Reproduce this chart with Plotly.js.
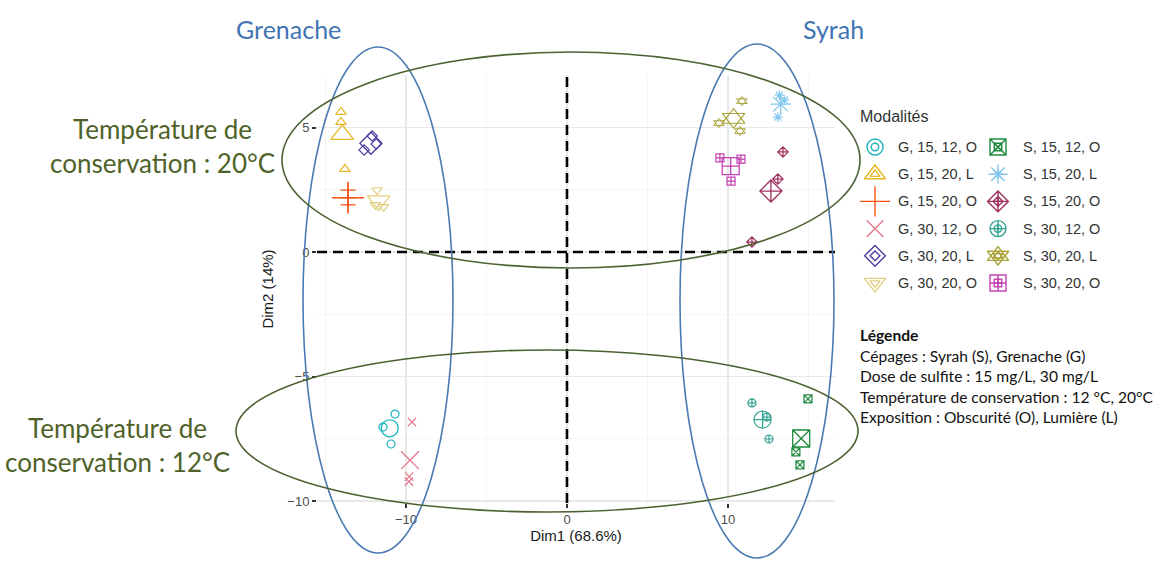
<!DOCTYPE html>
<html>
<head>
<meta charset="utf-8">
<script src="https://cdn.plot.ly/plotly-3.0.1.min.js"></script>
<style>
  html, body { margin: 0; padding: 0; background: #ffffff; }
  #chart { width: 1162px; height: 563px; }
</style>
</head>
<body>
<div id="chart"></div>
<script>
// Groups: grape variety, sulfite dose (mg/L), storage temperature (°C), exposure
const modalites = [
  'G, 15, 12, O', 'G, 15, 20, L', 'G, 15, 20, O', 'G, 30, 12, O', 'G, 30, 20, L', 'G, 30, 20, O',
  'S, 15, 12, O', 'S, 15, 20, L', 'S, 15, 20, O', 'S, 30, 12, O', 'S, 30, 20, L', 'S, 30, 20, O'
];

// Individual coordinates on the first two principal components (3 replicates per group)
const dim1Values = [
  [-10.68, -11.43, -10.93],
  [-14.04, -14.04, -13.80],
  [-13.60, -13.60, -13.60],
  [-9.63, -9.80, -9.82],
  [-12.10, -11.85, -12.60],
  [-11.80, -11.90, -11.40],
  [14.97, 14.22, 14.47],
  [13.20, 13.50, 13.10],
  [13.42, 13.10, 11.49],
  [11.49, 12.42, 12.55],
  [10.87, 9.44, 10.75],
  [9.50, 10.81, 10.19]
];
const dim2Values = [
  [-6.51, -7.03, -7.71],
  [5.62, 5.22, 3.33],
  [2.49, 2.17, 1.89],
  [-6.83, -9.02, -9.22],
  [4.66, 4.34, 4.10],
  [2.49, 1.89, 1.81],
  [-5.90, -8.03, -8.55],
  [6.30, 6.10, 5.42],
  [4.02, 2.93, 0.40],
  [-6.06, -6.63, -7.51],
  [6.06, 5.18, 4.86],
  [3.78, 3.73, 2.85]
];

// Group mean points
const meanDim1 = [-11.01, -13.96, -13.60, -9.75, -12.18, -11.70, 14.55, 13.27, 12.67, 12.15, 10.35, 10.17];
const meanDim2 = [-7.08, 4.72, 2.18, -8.36, 4.37, 2.06, -7.49, 5.94, 2.45, -6.73, 5.37, 3.45];

// Marker shapes; the star of David is built from an up and a down triangle
const symbols = [
  ['circle-open'], ['triangle-up-open'], ['cross-thin-open'], ['x-thin-open'], ['diamond-open'], ['triangle-down-open'],
  ['square-x-open'], ['asterisk-open'], ['diamond-cross-open'], ['circle-cross-open'],
  ['triangle-up-open', 'triangle-down-open'], ['square-cross-open']
];
const colors = [
  '#1FB5BD', '#E5B822', '#FA5217', '#E3798A', '#4E3FA0', '#E2CF80',
  '#1F8A3E', '#82C8EE', '#A0305E', '#37A596', '#A9A33A', '#C342B2'
];

const legendNotes = [
  '<b>Légende</b>',
  'Cépages : Syrah (S), Grenache (G)',
  'Dose de sulfite : 15 mg/L, 30 mg/L',
  'Température de conservation : 12 °C, 20°C',
  'Exposition : Obscurité (O), Lumière (L)'
];

// ---- page geometry helpers (pixels -> paper fractions) ----
const W = 1162, H = 563;
const px = v => v / W;
const py = v => 1 - v / H;

const smallSize = 8;
const bigSize = 17;
const symScale = s => {
  if (s.indexOf('triangle') === 0) return 1.15;
  if (s === 'cross-thin-open') return 1.35;
  if (s === 'x-thin-open') return 1.05;
  return 1;
};
const isComposite = i => symbols[i].length > 1;

const traces = [];
modalites.forEach((name, i) => {
  symbols[i].forEach(sym => {
    const k = symScale(sym);
    const lw = isComposite(i) ? 1.0 : 1.2;
    traces.push({
      type: 'scatter', mode: 'markers', name: name, showlegend: false,
      x: dim1Values[i], y: dim2Values[i],
      marker: { symbol: sym, size: smallSize * k, color: colors[i], line: { color: colors[i], width: lw } },
      hoverinfo: 'x+y+name'
    });
    traces.push({
      type: 'scatter', mode: 'markers', name: name, showlegend: false,
      x: [meanDim1[i]], y: [meanDim2[i]],
      marker: { symbol: sym, size: bigSize * k, color: colors[i], line: { color: colors[i], width: lw + 0.1 } },
      hoverinfo: 'x+y+name'
    });
  });
});

// Legend keys drawn on their own small hidden axes (1 unit = 1 px)
const legX = [], legY = [], legTextX = [];
modalites.forEach((name, i) => {
  const col = i < 6 ? 0 : 1;
  const row = i % 6;
  legX.push(col === 0 ? 15 : 138);
  legY.push(147 + row * 27.2);
  legTextX.push(col === 0 ? 36 : 161);
});
modalites.forEach((name, i) => {
  symbols[i].forEach(sym => {
    const k = symScale(sym);
    const isThin = sym.indexOf('thin') >= 0;
    traces.push({
      type: 'scatter', mode: 'markers', xaxis: 'x2', yaxis: 'y2', showlegend: false, hoverinfo: 'skip',
      x: [legX[i]], y: [legY[i]],
      marker: { symbol: sym, size: 16 * k, color: colors[i], line: { color: colors[i], width: 1.4 } }
    });
    if (!isThin) {
      traces.push({
        type: 'scatter', mode: 'markers', xaxis: 'x2', yaxis: 'y2', showlegend: false, hoverinfo: 'skip',
        x: [legX[i]], y: [legY[i]],
        marker: { symbol: sym, size: 7.5 * k, color: colors[i], line: { color: colors[i], width: 1.4 } }
      });
    }
  });
});

const annotations = [];
modalites.forEach((name, i) => {
  annotations.push({
    xref: 'x2', yref: 'y2', x: legTextX[i], y: legY[i], text: name, showarrow: false,
    xanchor: 'left', yanchor: 'middle',
    font: { family: 'Liberation Sans, Arial, sans-serif', size: 14.5, color: '#333333' }
  });
});
annotations.push({
  xref: 'paper', yref: 'paper', x: px(858), y: py(116), text: 'Modalités', showarrow: false,
  xanchor: 'left', yanchor: 'middle',
  font: { family: 'Liberation Sans, Arial, sans-serif', size: 16, color: '#333333' }
});
legendNotes.forEach((t, i) => {
  annotations.push({
    xref: 'paper', yref: 'paper', x: px(858), y: py(335 + i * 20.6), text: t, showarrow: false,
    xanchor: 'left', yanchor: 'middle',
    font: { family: 'Lato, Carlito, sans-serif', size: 15.6, color: '#111111' }
  });
});
const groupFont = { family: 'Lato, Carlito, sans-serif', size: 25, color: '#3F74B3' };
const centred = { showarrow: false, xref: 'paper', yref: 'paper', xanchor: 'center', yanchor: 'middle' };
annotations.push(Object.assign({ x: px(288), y: py(29), text: 'Grenache', font: groupFont }, centred));
annotations.push(Object.assign({ x: px(833), y: py(29), text: 'Syrah', font: groupFont }, centred));
const tempFont = { family: 'Lato, Carlito, sans-serif', size: 26, color: '#4F6228' };
annotations.push(Object.assign({ x: px(162), y: py(146), text: 'Température de<br>conservation : 20°C', font: tempFont }, centred));
annotations.push(Object.assign({ x: px(117), y: py(445), text: 'Température de<br>conservation : 12°C', font: tempFont }, centred));

// Outline ellipses (pixel centre and semi-axes)
const ellipse = (cx, cy, a, b, color) => ({
  type: 'circle', xref: 'paper', yref: 'paper', layer: 'above',
  x0: px(cx - a), x1: px(cx + a), y0: py(cy + b), y1: py(cy - b),
  line: { color: color, width: 1.6 }
});
const blue = '#4A7AB2', green = '#4B6132';

const shapes = [
  { type: 'line', xref: 'x', yref: 'y domain', x0: 0, x1: 0, y0: 0, y1: 1, layer: 'above', line: { color: '#000', width: 2.6, dash: '10px,6px' } },
  { type: 'line', xref: 'x domain', yref: 'y', x0: 0, x1: 1, y0: 0, y1: 0, layer: 'above', line: { color: '#000', width: 2.6, dash: '10px,6px' } },
  ellipse(378, 300, 75, 253, blue),
  ellipse(757, 301, 77, 257, blue),
  ellipse(571, 160, 289, 108, green),
  ellipse(547, 431, 311, 81, green)
];

const tickFont = { family: 'Liberation Sans, Arial, sans-serif', size: 13, color: '#4D4D4D' };
const titleFont = { family: 'Liberation Sans, Arial, sans-serif', size: 15, color: '#1A1A1A' };

const layout = {
  width: W, height: H,
  margin: { l: 0, r: 0, t: 0, b: 0 },
  paper_bgcolor: '#ffffff', plot_bgcolor: '#ffffff',
  showlegend: false,
  xaxis: {
    domain: [px(317), px(835)], range: [-15.53, 16.65], autorange: false,
    tick0: 0, dtick: 10, ticks: 'outside', ticklen: 4, tickwidth: 2, tickcolor: '#333',
    showgrid: true, gridcolor: '#E8E8E8', gridwidth: 1.1,
    minor: { tick0: 0, dtick: 5, showgrid: true, gridcolor: '#F1F1F1', gridwidth: 0.7, ticks: '' },
    zeroline: false, showline: false, tickfont: tickFont,
    title: { text: 'Dim1 (68.6%)', font: titleFont, standoff: 2 }
  },
  yaxis: {
    domain: [py(503), py(75)], range: [-10.08, 7.11], autorange: false,
    tick0: 0, dtick: 5, ticks: 'outside', ticklen: 4, tickwidth: 2, tickcolor: '#333',
    showgrid: true, gridcolor: '#E8E8E8', gridwidth: 1.1,
    minor: { tick0: 0, dtick: 2.5, showgrid: true, gridcolor: '#F1F1F1', gridwidth: 0.7, ticks: '' },
    zeroline: false, showline: false, tickfont: tickFont,
    title: { text: 'Dim2 (14%)', font: titleFont, standoff: 10 }
  },
  xaxis2: { domain: [px(860), px(1110)], range: [0, 250], autorange: false, visible: false, fixedrange: true, anchor: 'y2' },
  yaxis2: { domain: [py(300), py(130)], range: [300, 130], autorange: false, visible: false, fixedrange: true, anchor: 'x2' },
  shapes: shapes,
  annotations: annotations
};

Plotly.newPlot('chart', traces, layout, { displayModeBar: false, staticPlot: true });
</script>
</body>
</html>
